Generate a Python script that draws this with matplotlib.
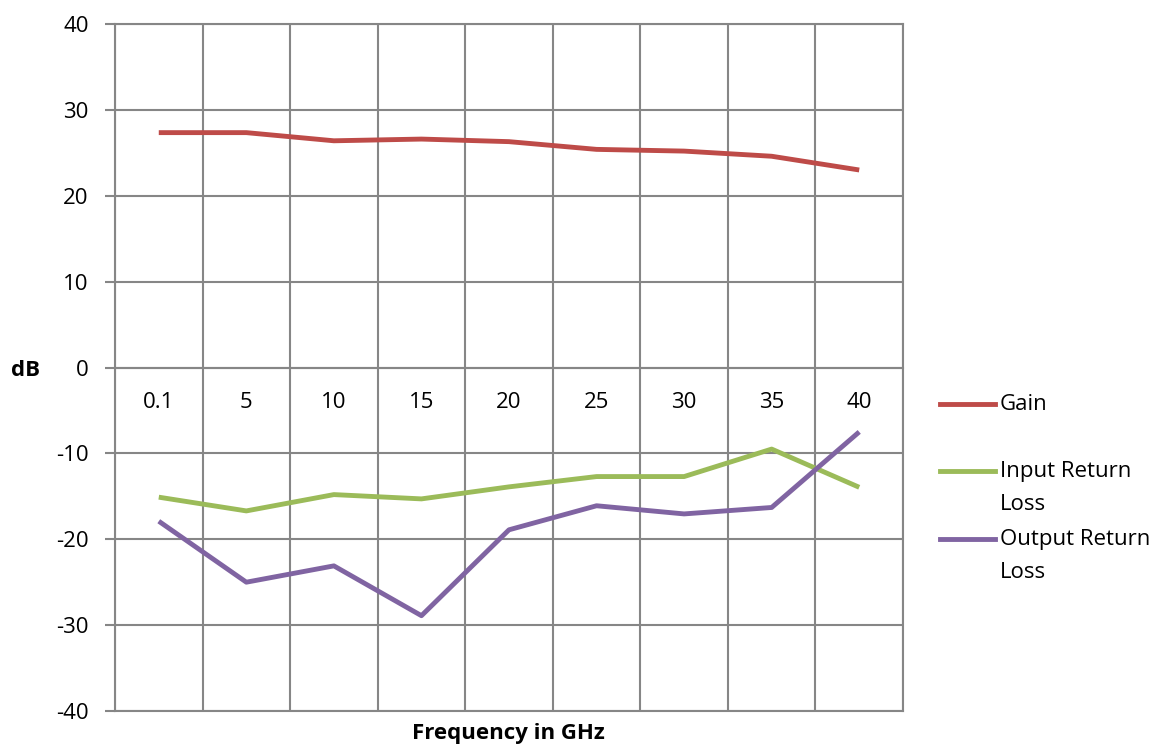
import matplotlib
matplotlib.use("Agg")
import matplotlib.pyplot as plt
from matplotlib.lines import Line2D

categories = ["0.1", "5", "10", "15", "20", "25", "30", "35", "40"]
gain = [27.35, 27.35, 26.4, 26.6, 26.3, 25.4, 25.2, 24.6, 23.0]
input_rl = [-15.1, -16.7, -14.8, -15.3, -13.9, -12.7, -12.7, -9.5, -13.95]
output_rl = [-17.9, -25.0, -23.1, -28.9, -18.9, -16.1, -17.05, -16.3, -7.5]
series_names = ["Gain", "Input Return\nLoss", "Output Return\nLoss"]
colors = ["#BE4B48", "#9BBB59", "#8064A2"]
yticks = [40, 30, 20, 10, 0, -10, -20, -30, -40]

FONT = "Open Sans"
FS = 16
plt.rcParams['font.family'] = [FONT, 'DejaVu Sans']

W, H = 1164, 748
fig = plt.figure(figsize=(W / 100, H / 100), dpi=100)
ax = fig.add_axes([115 / W, 1 - 711 / H, (903 - 115) / W, (711 - 24) / H])

x = list(range(len(categories)))
for vals, c in zip([gain, input_rl, output_rl], colors):
    ax.plot(x, vals, color=c, lw=3.5, solid_capstyle='butt', zorder=3)

ax.set_xlim(-0.5, len(categories) - 0.5)
ax.set_ylim(-40, 40)

ax.set_xticks(x)
ax.set_xticks([i - 0.5 for i in range(len(categories) + 1)], minor=True)
ax.spines['bottom'].set_position(('data', 0))
ax.set_xticklabels(categories)
ax.tick_params(axis='x', which='major', length=0, pad=18, labelsize=FS)
ax.tick_params(axis='x', which='minor', length=0)

ax.set_yticks(yticks)
ax.set_yticklabels([str(v) for v in yticks])
ax.tick_params(axis='y', length=7, width=1.5, color="#868686", direction='out',
               pad=12, labelsize=FS)

ax.grid(axis='x', which='minor', color="#868686", lw=1.5)
ax.grid(axis='y', which='major', color="#868686", lw=1.5)

for s in ['left', 'right', 'top', 'bottom']:
    ax.spines[s].set_color("#868686")
    ax.spines[s].set_linewidth(1.5)

# frame bottom edge at -40
ax.axhline(-40, color="#868686", lw=1.5, clip_on=False)

fig.text(26 / W, 1 - 370 / H, "dB", fontsize=FS, fontweight='bold', ha='center', va='center')
fig.text(508 / W, 1 - 733 / H, "Frequency in GHz", fontsize=FS, fontweight='bold',
         ha='center', va='center')

# legend
leg_y = [404, 471, 539]
line_gap = 33
for name, c, yy in zip(series_names, colors, leg_y):
    fig.add_artist(Line2D([940 / W, 995 / W], [1 - yy / H, 1 - yy / H], color=c, lw=3.5,
                          transform=fig.transFigure))
    for k, part in enumerate(name.split("\n")):
        fig.text(1000 / W, 1 - (yy + k * line_gap) / H, part, fontsize=FS,
                 ha='left', va='center')

fig.savefig("out.png", dpi=100)
